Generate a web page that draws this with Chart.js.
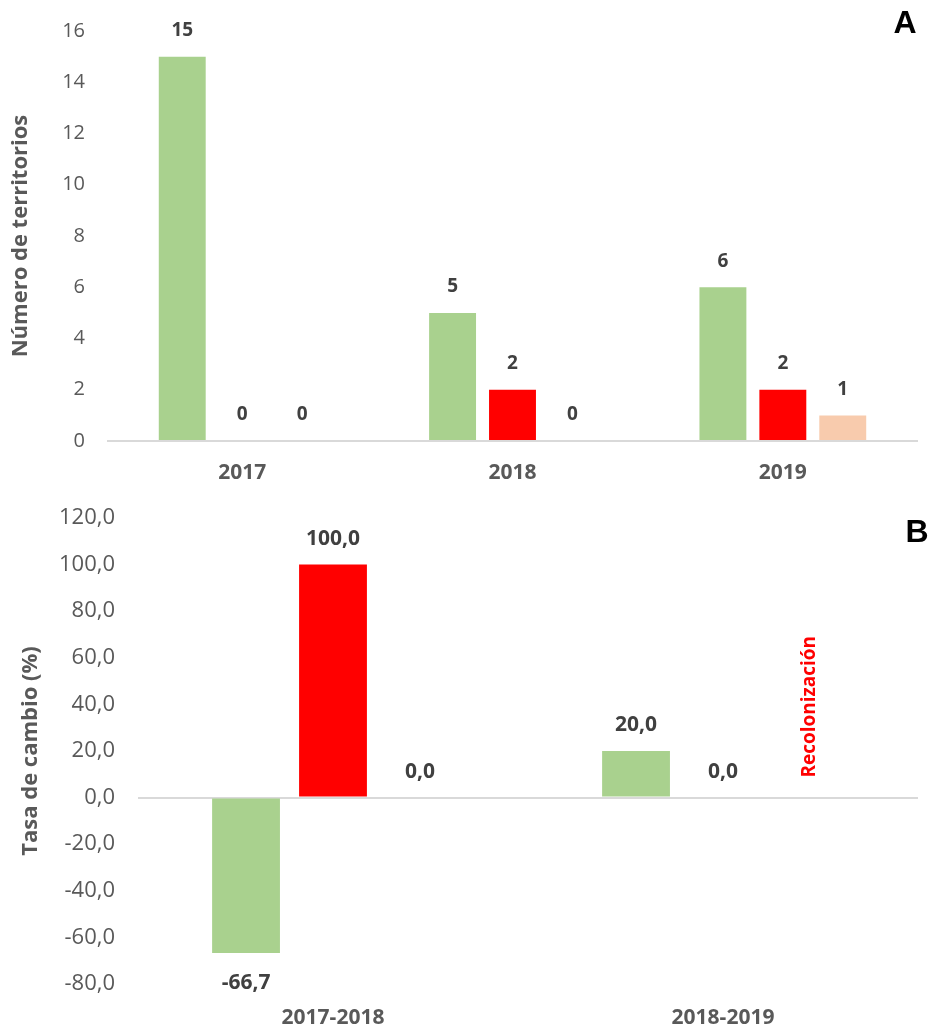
<!DOCTYPE html>
<html>
<head>
<meta charset="utf-8">
<script src="https://cdn.jsdelivr.net/npm/chart.js@4.4.1/dist/chart.umd.min.js"></script>
<style>
  html, body { margin: 0; padding: 0; background: #ffffff; }
  #wrapA { position: absolute; left: 0; top: 0; width: 930px; height: 495px; }
  #wrapB { position: absolute; left: 0; top: 495px; width: 930px; height: 533px; }
</style>
</head>
<body>
<div id="wrapA"><canvas id="chartA" width="930" height="495"></canvas></div>
<div id="wrapB"><canvas id="chartB" width="930" height="533"></canvas></div>
<script>
// ---------- Data: panel A ----------
const yearsA = ['2017', '2018', '2019'];
const greenA = [15, 5, 6];
const redA = [0, 2, 2];
const peachA = [0, 0, 1];
const yTicksA = [0, 2, 4, 6, 8, 10, 12, 14, 16];

// ---------- Data: panel B ----------
const periodsB = ['2017-2018', '2018-2019'];
const greenB = [-66.7, 20.0];
const redB = [100.0, 0.0];
const peachB = [0.0, null];
const peachNoteB = [null, 'Recolonización'];
const yTicksB = [-80, -60, -40, -20, 0, 20, 40, 60, 80, 100, 120];

const FONT = "'Open Sans', 'DejaVu Sans', sans-serif";
const GREEN = '#A9D18E', RED = '#FF0000', PEACH = '#F8CBAD';
const TICK_COLOR = '#595959', LABEL_COLOR = '#404040';

function fmtComma(v) { return Number(v).toFixed(1).replace('.', ','); }

function valueLabelsPlugin(opts) {
  return {
    id: 'valueLabels',
    afterDatasetsDraw(chart) {
      const ctx = chart.ctx;
      ctx.save();
      chart.data.datasets.forEach((ds, di) => {
        const meta = chart.getDatasetMeta(di);
        meta.data.forEach((bar, i) => {
          const v = ds.data[i];
          const yZero = chart.scales.y.getPixelForValue(0);
          if (v === null || v === undefined) {
            const note = ds.notes ? ds.notes[i] : null;
            if (note) {
              ctx.save();
              ctx.translate(bar.x, yZero - opts.noteGap);
              ctx.rotate(-Math.PI / 2);
              ctx.font = 'bold ' + opts.noteSize + 'px ' + FONT;
              ctx.fillStyle = '#FF0000';
              ctx.textAlign = 'left';
              ctx.textBaseline = 'middle';
              ctx.fillText(note, 0, 0);
              ctx.restore();
            }
            return;
          }
          ctx.font = 'bold ' + opts.size + 'px ' + FONT;
          ctx.fillStyle = LABEL_COLOR;
          ctx.textAlign = 'center';
          ctx.textBaseline = 'middle';
          const yEnd = chart.scales.y.getPixelForValue(v);
          const y = v < 0 ? yEnd + opts.below : yEnd - opts.above;
          ctx.fillText(opts.fmt(v), bar.x, y);
        });
      });
      ctx.restore();
    }
  };
}

function panelLetterPlugin(letter, x, y) {
  return {
    id: 'panelLetter',
    afterDraw(chart) {
      const ctx = chart.ctx;
      ctx.save();
      ctx.font = 'bold 32px "Liberation Sans", Arial, sans-serif';
      ctx.fillStyle = '#000000';
      ctx.textAlign = 'center';
      ctx.textBaseline = 'alphabetic';
      ctx.fillText(letter, x, y);
      ctx.restore();
    }
  };
}

function zeroGrid(ctx) {
  return ctx.tick && ctx.tick.value === 0 ? '#D9D9D9' : 'rgba(0,0,0,0)';
}
function noPad(s) { s.paddingTop = 0; s.paddingBottom = 0; s.paddingLeft = 0; s.paddingRight = 0; }

// ---------- Chart A ----------
new Chart(document.getElementById('chartA'), {
  type: 'bar',
  data: {
    labels: yearsA,
    datasets: [
      { data: greenA, backgroundColor: GREEN },
      { data: redA, backgroundColor: RED },
      { data: peachA, backgroundColor: PEACH }
    ]
  },
  options: {
    responsive: false,
    animation: false,
    events: [],
    layout: { padding: { top: 31, right: 12, bottom: 0, left: 0 } },
    datasets: { bar: { categoryPercentage: 0.665, barPercentage: 0.783, borderWidth: 0 } },
    plugins: { legend: { display: false }, tooltip: { enabled: false } },
    scales: {
      x: {
        grid: { display: false },
        border: { display: false },
        ticks: { color: TICK_COLOR, font: { family: FONT, size: 21, weight: 'bold' }, padding: 11 },
        afterFit(s) { s.height = 54; noPad(s); }
      },
      y: {
        min: 0, max: 16,
        afterBuildTicks(s) { s.ticks = yTicksA.map(v => ({ value: v })); },
        grid: { color: zeroGrid, lineWidth: 2, drawTicks: false },
        border: { display: false },
        ticks: { color: TICK_COLOR, font: { family: FONT, size: 20 }, padding: 22 },
        title: { display: true, text: 'Número de territorios', color: TICK_COLOR,
                 font: { family: FONT, size: 22, weight: 'bold' }, padding: { top: 8, bottom: 0 } },
        afterFit(s) { s.width = 107; noPad(s); }
      }
    }
  },
  plugins: [
    valueLabelsPlugin({ size: 19, above: 26, below: 30, fmt: v => String(v), noteGap: 20, noteSize: 19 }),
    panelLetterPlugin('A', 905, 33)
  ]
});

// ---------- Chart B ----------
new Chart(document.getElementById('chartB'), {
  type: 'bar',
  data: {
    labels: periodsB,
    datasets: [
      { data: greenB, backgroundColor: GREEN },
      { data: redB, backgroundColor: RED },
      { data: peachB, backgroundColor: PEACH, notes: peachNoteB }
    ]
  },
  options: {
    responsive: false,
    animation: false,
    events: [],
    layout: { padding: { top: 23, right: 12, bottom: 0, left: 0 } },
    datasets: { bar: { categoryPercentage: 0.669, barPercentage: 0.78, borderWidth: 0 } },
    plugins: { legend: { display: false }, tooltip: { enabled: false } },
    scales: {
      x: {
        grid: { display: false },
        border: { display: false },
        ticks: { color: TICK_COLOR, font: { family: FONT, size: 21, weight: 'bold' }, padding: 13 },
        afterFit(s) { s.height = 44; noPad(s); }
      },
      y: {
        min: -80, max: 120,
        afterBuildTicks(s) { s.ticks = yTicksB.map(v => ({ value: v })); },
        grid: { color: zeroGrid, lineWidth: 2, drawTicks: false },
        border: { display: false },
        ticks: { color: TICK_COLOR, font: { family: FONT, size: 22 }, padding: 23, callback: v => fmtComma(v) },
        title: { display: true, text: 'Tasa de cambio (%)', color: TICK_COLOR,
                 font: { family: FONT, size: 22, weight: 'bold' }, padding: { top: 18, bottom: 0 } },
        afterFit(s) { s.width = 138; noPad(s); }
      }
    }
  },
  plugins: [
    valueLabelsPlugin({ size: 21, above: 26, below: 30, fmt: fmtComma, noteGap: 20, noteSize: 19 }),
    panelLetterPlugin('B', 917, 47)
  ]
});
</script>
</body>
</html>
